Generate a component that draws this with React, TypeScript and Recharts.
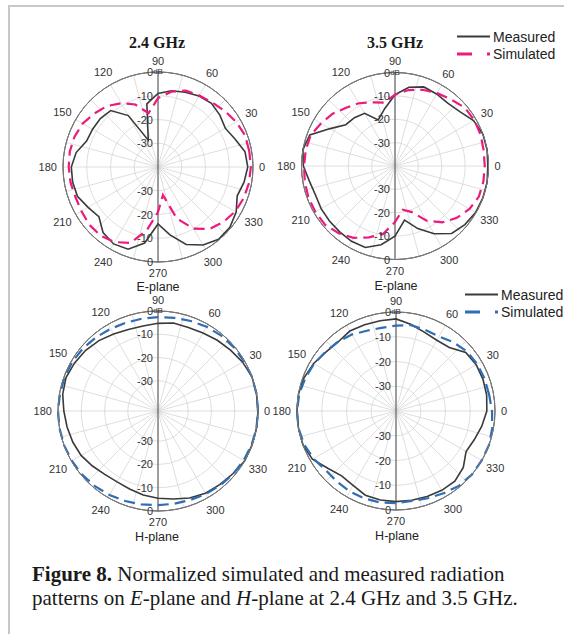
import React from 'react';
import { RadarChart, Radar, PolarGrid, PolarAngleAxis, PolarRadiusAxis } from 'recharts';

// Sampling angles (degrees, counter-clockwise from the +x direction)
const ANGLES = [
  0, 10, 20, 30, 40, 50, 60, 70, 80, 90, 100, 110,
  120, 130, 140, 150, 160, 170, 180, 190, 200, 210, 220, 230,
  240, 250, 260, 270, 280, 290, 300, 310, 320, 330, 340, 350,
];
const LABELLED_ANGLES = [0, 30, 60, 90, 120, 150, 180, 210, 240, 270, 300, 330];
const SPOKE_ANGLES = [0, 15, 30, 45, 60, 75, 90, 105, 120, 135, 150, 165, 180, 195, 210, 225, 240, 255, 270, 285, 300, 315, 330, 345];
const RING_LEVELS = [-30, -20, -10, 0];

// Normalized gain (dB) – E-plane, 2.4 GHz
const E24_MEASURED = [
  -2.8, -5.5, -7.3, -6.0, -5.0, -5.5, -6.5, -7.4, -9.0, -13.0, -28.0, -15.0,
  -9.0, -8.3, -8.2, -8.0, -5.0, -3.5, -3.5, -3.9, -6.0, -7.5, -4.0, -2.6,
  -3.2, -7.5, -16.0, -11.0, -5.3, -2.1, -0.3, -0.5, -2.0, -4.5, -3.2, -2.2,
];
const E24_SIMULATED = [
  -1.0, -1.0, -2.0, -3.3, -4.5, -5.2, -5.8, -7.8, -11.0, -17.0, -12.0, -9.0,
  -6.5, -5.0, -3.4, -2.6, -2.3, -2.4, -2.6, -3.0, -2.8, -2.2, -2.3, -3.5,
  -6.0, -13.0, -21.0, -28.0, -17.0, -10.0, -6.0, -4.0, -2.5, -1.6, -1.1, -0.9,
];

// Normalized gain (dB) – E-plane, 3.5 GHz
const E35_MEASURED = [
  0, 0, -1.2, -3.8, -4.9, -4.4, -4.0, -5.8, -9.5, -15.0, -19.0, -14.0,
  -13.0, -12.5, -8.0, -1.2, 0, -0.8, -2.8, -3.8, -3.5, -3.4, -3.2, -2.8,
  -2.9, -5.8, -10.0, -16.5, -11.5, -6.5, -2.3, -1.0, -0.2, 0, 0, -0.3,
];
const E35_SIMULATED = [
  -1.5, -1.0, -0.8, -1.1, -2.8, -4.0, -5.3, -7.0, -9.5, -12.5, -11.0, -9.0,
  -7.5, -5.2, -3.5, -1.6, -1.2, -1.1, -0.8, -0.6, -0.7, -0.9, -2.5, -4.5,
  -7.5, -10.5, -16.0, -21.0, -19.0, -13.0, -8.5, -5.5, -3.2, -1.8, -1.6, -1.6,
];

// Normalized gain (dB) – H-plane, 2.4 GHz
const H24_MEASURED = [
  0, 0, -1.0, -2.3, -3.3, -4.3, -4.8, -4.6, -5.3, -5.9, -5.7, -4.8,
  -3.5, -2.4, -1.6, -0.9, -1.4, -2.5, -3.3, -4.0, -4.8, -6.2, -7.4, -7.8,
  -7.3, -6.3, -5.5, -4.6, -3.2, -2.2, -1.7, -1.0, 0, 0, 0, 0,
];
const H24_SIMULATED = [
  0, 0, -0.3, -0.4, -0.7, -1.2, -1.8, -2.3, -2.6, -2.7, -2.6, -2.2,
  -1.6, -1.0, -0.5, -0.3, -0.2, 0, 0, 0, -0.2, -0.4, -0.8, -1.3,
  -1.8, -2.2, -2.5, -2.5, -2.3, -1.8, -1.3, -0.8, -0.5, -0.2, 0, 0,
];

// Normalized gain (dB) – H-plane, 3.5 GHz
const H35_MEASURED = [
  -2.8, -2.6, -2.6, -3.2, -6.5, -7.0, -6.2, -4.5, -2.8, -3.0, -2.9, -2.7,
  -3.6, -3.0, -1.6, -0.5, 0, 0, 0, 0, -1.0, -4.0, -5.8, -5.3,
  -3.8, -3.5, -3.4, -3.4, -3.2, -3.0, -3.0, -4.5, -7.3, -6.3, -4.8, -3.3,
];
const H35_SIMULATED = [
  -1.8, -1.9, -2.1, -2.6, -3.8, -5.2, -5.2, -4.8, -5.5, -5.9, -5.5, -4.3,
  -3.5, -2.8, -1.8, -1.0, -0.3, 0, 0, -0.5, -1.5, -2.9, -2.8, -2.5,
  -2.4, -2.5, -2.8, -3.1, -2.5, -1.6, -0.5, 0, 0, 0, -0.5, -1.2,
];

const FREQUENCY_TITLES = ['2.4 GHz', '3.5 GHz'];
const PLANE_LABELS = ['E-plane', 'H-plane'];

const FONT_SANS = '"Liberation Sans", Arial, sans-serif';
const FONT_SERIF = '"Liberation Serif", "Times New Roman", serif';

const MEASURED_COLOR = '#3a3a3a';
const E_SIM_COLOR = '#ec1a7d';
const H_SIM_COLOR = '#2f6db5';
const GRID_COLOR = '#d5d5d5';
const AXIS_COLOR = '#4a4a4a';
const RIM_COLOR = '#7c7c7c';
const LABEL_COLOR = '#333333';

const SERIES = [
  { key: 'measured', name: 'Measured' },
  { key: 'simulated', name: 'Simulated' },
];

const BOX = 260;

type PanelProps = {
  centerX: number;
  centerY: number;
  radius: number;
  minDb: number;
  measured: number[];
  simulated: number[];
  simColor: string;
};

function PolarPanel({ centerX, centerY, radius, minDb, measured, simulated, simColor }: PanelProps) {
  const c = BOX / 2;
  const rows = ANGLES.map((a, i) => ({ angle: String(a), measured: measured[i], simulated: simulated[i] }));

  const angleTick = (props: any) => {
    const value = Number(props.payload.value);
    if (!LABELLED_ANGLES.includes(value)) return <g />;
    const label = String(value);
    const rad = (value * Math.PI) / 180;
    const s = Math.sin(rad);
    const dist = radius + 6 + label.length * 3.1 * Math.abs(Math.cos(rad)) + 5.4 * s * s;
    return (
      <text
        x={c + dist * Math.cos(rad)}
        y={c - dist * s}
        textAnchor="middle"
        dominantBaseline="central"
        fontSize={11}
        fontFamily={FONT_SANS}
        fill={LABEL_COLOR}
      >
        {label}
      </text>
    );
  };

  const radiusTick = (props: any) => {
    const { x, y, payload } = props;
    const v = Number(payload.value);
    if (v <= minDb) return <g />;
    const mirroredY = 2 * c - y;
    return (
      <g fontFamily={FONT_SANS} fill={LABEL_COLOR} fontSize={11}>
        {v === 0 ? (
          <text x={x - 11} y={y} dominantBaseline="central">
            <tspan>0</tspan>
            <tspan fontSize={8} dy={-1}>dB</tspan>
          </text>
        ) : (
          <text x={x - 5} y={y} textAnchor="end" dominantBaseline="central">{String(v)}</text>
        )}
        <text x={x - 5} y={mirroredY} textAnchor="end" dominantBaseline="central">{String(v)}</text>
      </g>
    );
  };

  return (
    <div style={{ position: 'absolute', left: centerX - c, top: centerY - c, width: BOX, height: BOX }}>
      <RadarChart
        width={BOX}
        height={BOX}
        data={rows}
        cx={c}
        cy={c}
        outerRadius={radius}
        startAngle={0}
        endAngle={360}
        margin={{ top: 0, right: 0, bottom: 0, left: 0 }}
      >
        <PolarGrid gridType="circle" polarAngles={SPOKE_ANGLES} stroke={GRID_COLOR} strokeWidth={0.8} />
        <PolarGrid gridType="circle" polarAngles={[90, 270]} polarRadius={[radius]} stroke={AXIS_COLOR} strokeWidth={1} />
        <PolarAngleAxis
          dataKey="angle"
          tick={angleTick}
          tickLine={false}
          axisLineType="circle"
          axisLine={{ stroke: RIM_COLOR, strokeWidth: 1 }}
        />
        <PolarRadiusAxis
          angle={90}
          type="number"
          domain={[minDb, 0]}
          ticks={RING_LEVELS}
          tickCount={RING_LEVELS.length}
          tick={radiusTick}
          axisLine={false}
          tickLine={false}
        />
        <Radar
          name={SERIES[0].name}
          dataKey={SERIES[0].key}
          stroke={MEASURED_COLOR}
          strokeWidth={1.6}
          fill="none"
          fillOpacity={0}
          dot={false}
          isAnimationActive={false}
        />
        <Radar
          name={SERIES[1].name}
          dataKey={SERIES[1].key}
          stroke={simColor}
          strokeWidth={2.2}
          strokeDasharray="11 6"
          fill="none"
          fillOpacity={0}
          dot={false}
          isAnimationActive={false}
        />
      </RadarChart>
    </div>
  );
}

function SeriesLegend({ left, top, simColor }: { left: number; top: number; simColor: string }) {
  return (
    <svg style={{ position: 'absolute', left, top }} width={114} height={40}>
      {SERIES.map((s, i) => {
        const y = 10.5 + i * 17.5;
        const isSim = s.key === 'simulated';
        return (
          <g key={s.key}>
            <line
              x1={7}
              x2={40}
              y1={y}
              y2={y}
              stroke={isSim ? simColor : MEASURED_COLOR}
              strokeWidth={isSim ? 3 : 2}
              strokeDasharray={isSim ? '15 15' : undefined}
            />
            <text x={43} y={y} dominantBaseline="central" fontSize={14} fontFamily={FONT_SANS} fill="#222">
              {s.name}
            </text>
          </g>
        );
      })}
    </svg>
  );
}

export default function App() {
  return (
    <div style={{ position: 'absolute', left: 0, top: 0, width: 564, height: 634, background: '#fff', overflow: 'hidden' }}>
      <div
        style={{
          position: 'absolute',
          left: 8,
          top: 5,
          width: 560,
          height: 640,
          borderLeft: '2px solid #c8c8c8',
          borderTop: '2px solid #c8c8c8',
        }}
      />
      <PolarPanel centerX={158} centerY={167} radius={95} minDb={-40} measured={E24_MEASURED} simulated={E24_SIMULATED} simColor={E_SIM_COLOR} />
      <PolarPanel centerX={395} centerY={166} radius={93.5} minDb={-40} measured={E35_MEASURED} simulated={E35_SIMULATED} simColor={E_SIM_COLOR} />
      <PolarPanel centerX={158} centerY={411} radius={100} minDb={-43} measured={H24_MEASURED} simulated={H24_SIMULATED} simColor={H_SIM_COLOR} />
      <PolarPanel centerX={396} centerY={411} radius={99} minDb={-40} measured={H35_MEASURED} simulated={H35_SIMULATED} simColor={H_SIM_COLOR} />

      <SeriesLegend left={450} top={26} simColor={E_SIM_COLOR} />
      <SeriesLegend left={458} top={284} simColor={H_SIM_COLOR} />

      <svg style={{ position: 'absolute', left: 0, top: 0, pointerEvents: 'none' }} width={564} height={634}>
        <g fontFamily={FONT_SERIF} fontWeight="bold" fontSize={16} fill="#1a1a1a" textAnchor="middle">
          <text x={157} y={47.5}>{FREQUENCY_TITLES[0]}</text>
          <text x={395} y={47.5}>{FREQUENCY_TITLES[1]}</text>
        </g>
        <g fontFamily={FONT_SANS} fontSize={12.5} fill="#222" textAnchor="middle">
          <text x={158} y={290.8}>{PLANE_LABELS[0]}</text>
          <text x={396} y={289.5}>{PLANE_LABELS[0]}</text>
          <text x={157} y={540.5}>{PLANE_LABELS[1]}</text>
          <text x={397} y={539.8}>{PLANE_LABELS[1]}</text>
        </g>
        <g fontFamily={FONT_SERIF} fontSize={21} fill="#1a1a1a">
          <text x={32} y={581}>
            <tspan fontWeight="bold">Figure 8.</tspan>
            <tspan> Normalized simulated and measured radiation</tspan>
          </text>
          <text x={32} y={605}>
            <tspan>patterns on </tspan>
            <tspan fontStyle="italic">E</tspan>
            <tspan>-plane and </tspan>
            <tspan fontStyle="italic">H</tspan>
            <tspan>-plane at 2.4 GHz and 3.5 GHz.</tspan>
          </text>
        </g>
      </svg>
    </div>
  );
}
